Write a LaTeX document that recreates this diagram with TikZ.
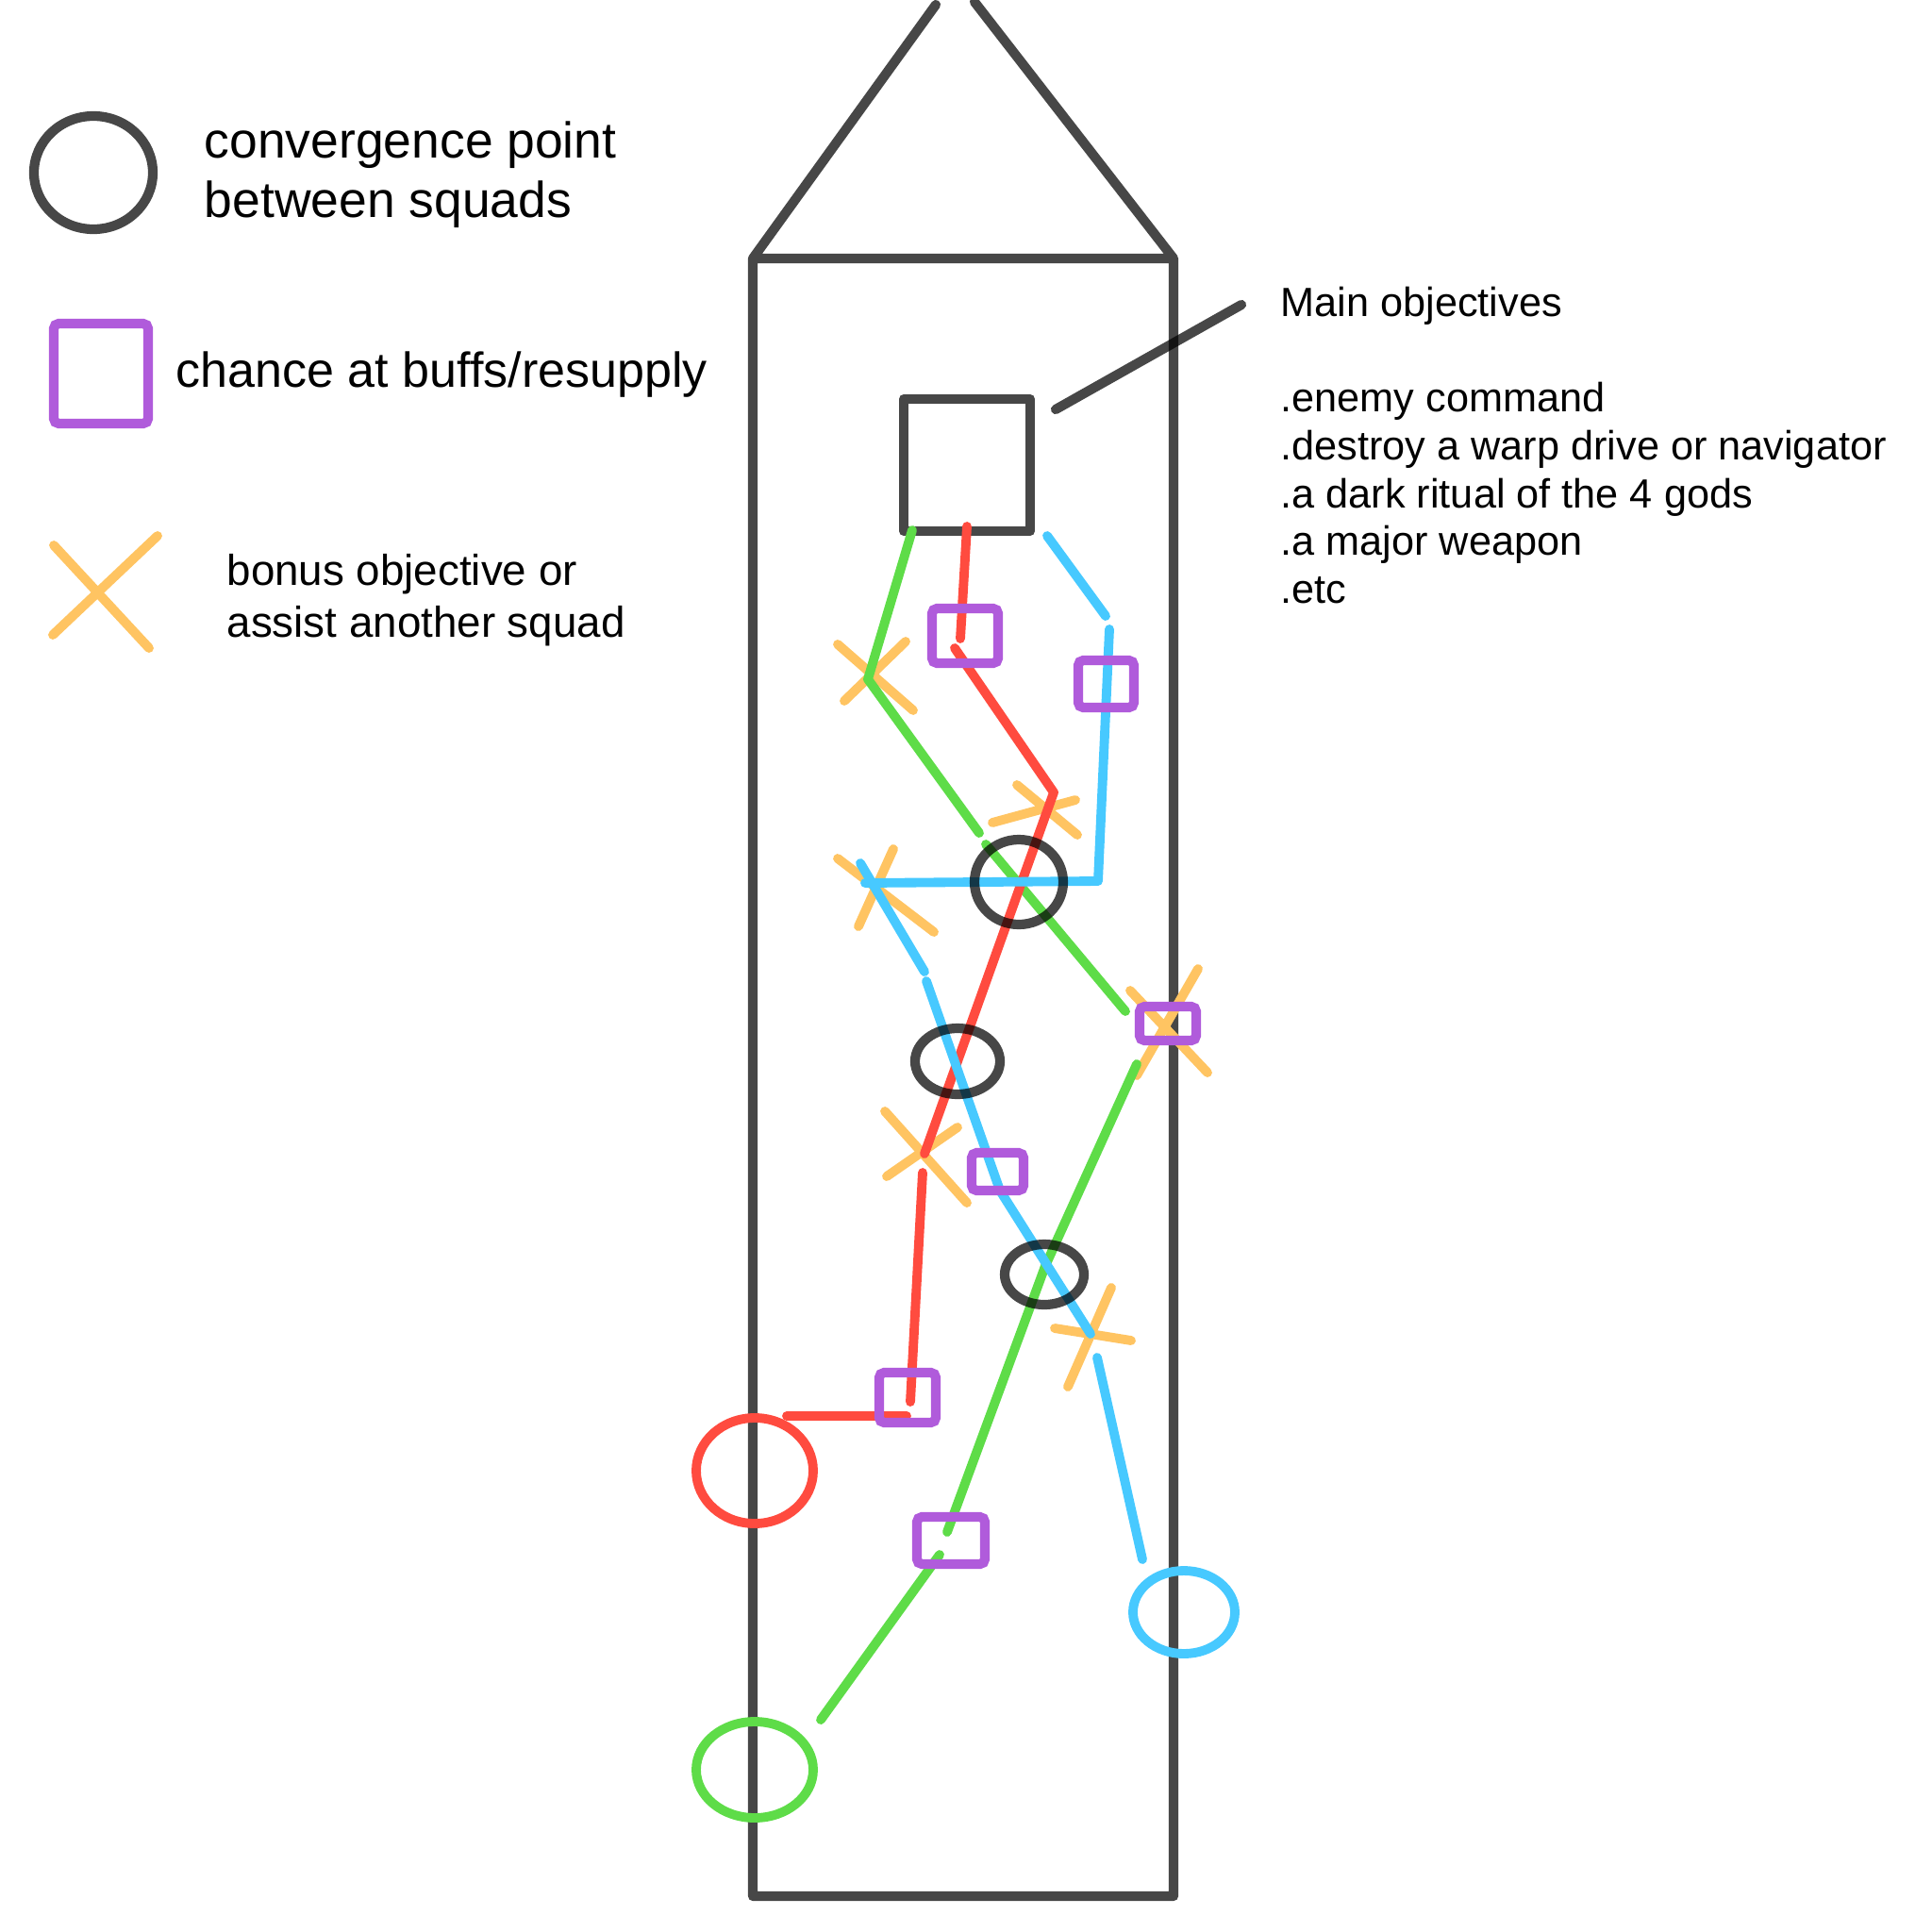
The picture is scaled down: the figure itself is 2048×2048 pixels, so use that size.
\documentclass[tikz,border=0pt]{standalone}
\usepackage{fontspec}
\setmainfont{Liberation Sans}
\usepackage{tikz}
\usetikzlibrary{positioning}

\definecolor{squadgreen}{HTML}{5EDC48}
\definecolor{squadred}{HTML}{FF4B3F}
\definecolor{squadblue}{HTML}{47C9FF}
\definecolor{perkpurple}{HTML}{B05BDB}
\definecolor{bonusorange}{HTML}{FFC462}

\begin{document}
\begin{tikzpicture}[x=0.01cm,y=-0.01cm,
  tower/.style={draw=black,opacity=.72,line width=2.9pt,line cap=round,line join=round},
  route/.style={line width=2.8pt,line cap=round,line join=round},
  meet/.style={draw=black,opacity=.72,line width=2.9pt},
  perk/.style={draw=perkpurple,line width=2.9pt,rounded corners=1.5pt},
  bonusx/.style={draw=bonusorange,line width=2.8pt,line cap=round},
  lbl/.style={anchor=base west,inner sep=0pt}]
\path[use as bounding box] (0,0) rectangle (2048,2048);

% legend
\draw[meet] (99,183) ellipse [x radius=63,y radius=60];
\draw[perk] (57,343) rectangle (157,449);
\draw[bonusx] (56,673)--(167,568) (57,578)--(158,687);
\node[lbl,font=\fontsize{15.2}{18}\selectfont] (conv1) at (216,167) {convergence point};
\node[lbl,font=\fontsize{15.2}{18}\selectfont] (conv2) at (216,230) {between squads};
\node[lbl,font=\fontsize{14.8}{18}\selectfont] (buffs) at (186,410) {chance at buffs/resupply};
\node[lbl,font=\fontsize{13}{15}\selectfont] (bonus1) at (240,620) {bonus objective or};
\node[lbl,font=\fontsize{13}{15}\selectfont] (bonus2) at (240,675) {assist another squad};

% tower and main objective
\draw[tower] (992,5)--(798,274)--(798,2010)--(1244,2010)--(1244,274)--(798,274)
  (1244,274)--(1033,2);
\draw[tower] (958,423) rectangle (1092,563);
\coordinate (lead1) at (1119,434);
\coordinate (lead2) at (1316,323);
\draw[tower] (lead1)--(lead2);

\node[lbl,font=\fontsize{12.3}{14}\selectfont] (mainobj) at (1357,335) {Main objectives};
\node[lbl,font=\fontsize{12.3}{14}\selectfont] (obj1) at (1357,436) {.enemy command};
\node[lbl,font=\fontsize{12.3}{14}\selectfont] (obj2) at (1357,487) {.destroy a warp drive or navigator};
\node[lbl,font=\fontsize{12.3}{14}\selectfont] (obj3) at (1357,538) {.a dark ritual of the 4 gods};
\node[lbl,font=\fontsize{12.3}{14}\selectfont] (obj4) at (1357,588) {.a major weapon};
\node[lbl,font=\fontsize{12.3}{14}\selectfont] (obj5) at (1357,639) {.etc};

% bonus objectives
\draw[bonusx] (888,683)--(968,753) (960,680)--(895,743);
\draw[bonusx] (1052,872)--(1140,848) (1078,832)--(1142,885);
\draw[bonusx] (888,910)--(990,988) (947,900)--(910,982);
\draw[bonusx] (1198,1050)--(1280,1137) (1270,1027)--(1205,1140);
\draw[bonusx] (938,1178)--(1025,1275) (1015,1195)--(940,1247);
\draw[bonusx] (1118,1408)--(1199,1421) (1178,1365)--(1132,1470);

% green squad
\draw[route,squadgreen] (967,562)--(920,720)--(1038,883);
\draw[route,squadgreen] (1045,895)--(1193,1072);
\draw[route,squadgreen] (1205,1128)--(1108,1342)--(1004,1624);
\draw[route,squadgreen] (996,1648)--(870,1823);
\draw[route,squadgreen] (800,1876) ellipse [x radius=62,y radius=51];

% red squad
\draw[route,squadred] (1025,558)--(1018,677);
\draw[route,squadred] (1012,687)--(1117,840)--(980,1223);
\draw[route,squadred] (978,1243)--(965,1486);
\draw[route,squadred] (961,1501)--(834,1501);
\draw[route,squadred] (800,1559) ellipse [x radius=62,y radius=56];

% blue squad
\draw[route,squadblue] (1110,568)--(1172,653);
\draw[route,squadblue] (1176,667)--(1164,934)--(917,936);
\draw[route,squadblue] (912,915)--(980,1030);
\draw[route,squadblue] (982,1040)--(1060,1262)--(1156,1414);
\draw[route,squadblue] (1163,1439)--(1211,1653);
\draw[route,squadblue] (1255,1709) ellipse [x radius=54,y radius=44];

% resupply
\draw[perk] (988,645) rectangle (1058,703);
\draw[perk] (1143,700) rectangle (1202,750);
\draw[perk] (1208,1067) rectangle (1268,1103);
\draw[perk] (1030,1222) rectangle (1085,1262);
\draw[perk] (932,1455) rectangle (992,1508);
\draw[perk] (972,1608) rectangle (1044,1658);

% convergence points
\draw[meet] (1080,935) ellipse [x radius=47,y radius=45];
\draw[meet] (1015,1125) ellipse [x radius=45,y radius=35];
\draw[meet] (1107,1351) ellipse [x radius=42,y radius=32];
\end{tikzpicture}
\end{document}
